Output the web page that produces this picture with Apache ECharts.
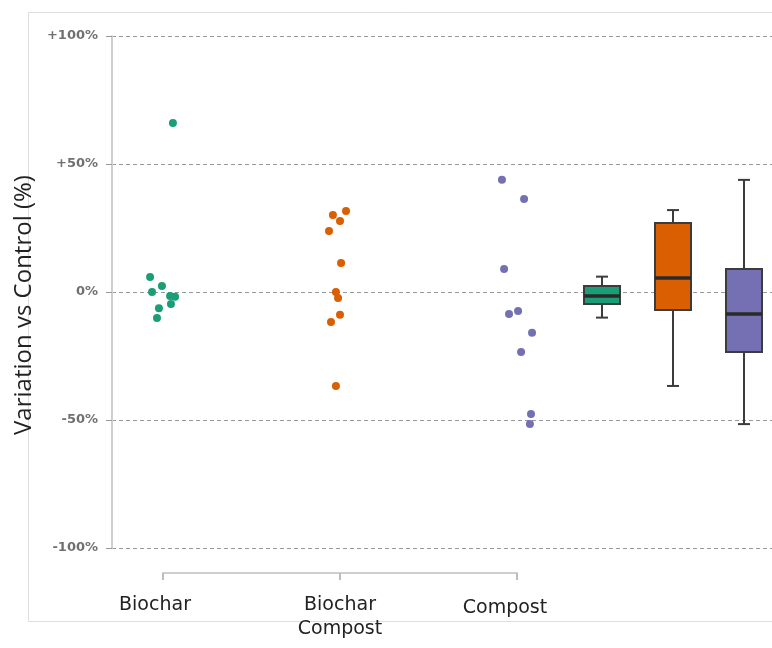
<!DOCTYPE html>
<html><head><meta charset="utf-8">
<script src="https://cdn.jsdelivr.net/npm/echarts@6/dist/echarts.min.js"></script>
<style>html,body{margin:0;padding:0;background:#fff}#c{width:772px;height:648px}</style>
</head><body><div id="c"></div>
<script>
const categories = ['Biochar', 'Biochar\nCompost', 'Compost'];
const colors = ['#1b9e77', '#d95f02', '#7570b3'];
const yTicks = [-100, -50, 0, 50, 100];

const biocharValues = [66.0, 5.9, 2.3, 0, -1.6, -1.9, -4.7, -6.3, -10.2];
const biocharJitter = [0.056, -0.073, -0.006, -0.062, 0.040, 0.068, 0.045, -0.023, -0.034];
const biocharCompostValues = [31.6, 30.1, 27.7, 23.8, 11.3, 0, -2.3, -8.9, -11.7, -36.7];
const biocharCompostJitter = [0.034, -0.040, 0.000, -0.062, 0.006, -0.023, -0.011, 0.000, -0.051, -0.023];
const compostValues = [43.8, 36.3, 9.0, -7.4, -8.6, -15.9, -23.4, -47.7, -51.6];
const compostJitter = [-0.085, 0.040, -0.073, 0.006, -0.045, 0.085, 0.023, 0.079, 0.073];

// box stats: [min, q1, median, q3, max]
const boxBiochar = [-10.0, -4.7, -1.6, 2.3, 6.0];
const boxBiocharCompost = [-36.7, -7.0, 5.5, 27.0, 32.0];
const boxCompost = [-51.6, -23.4, -8.6, 9.0, 43.8];

const groups = [
  { values: biocharValues, jitter: biocharJitter },
  { values: biocharCompostValues, jitter: biocharCompostJitter },
  { values: compostValues, jitter: compostJitter }
];
const boxes = [boxBiochar, boxBiocharCompost, boxCompost];

function renderBox(params, api) {
  const x = api.value(0);
  const c = i => api.coord([x, api.value(i)]);
  const pMin = c(1), pQ1 = c(2), pMed = c(3), pQ3 = c(4), pMax = c(5);
  const cx = pMin[0];
  const hw = 18, cw = 6;
  const stroke = '#3c3c3c';
  const ls = { stroke: stroke, lineWidth: 2 };
  return { type: 'group', children: [
    { type: 'line', shape: { x1: cx, y1: pMax[1], x2: cx, y2: pQ3[1] }, style: ls },
    { type: 'line', shape: { x1: cx, y1: pQ1[1], x2: cx, y2: pMin[1] }, style: ls },
    { type: 'line', shape: { x1: cx - cw, y1: pMax[1], x2: cx + cw, y2: pMax[1] }, style: ls },
    { type: 'line', shape: { x1: cx - cw, y1: pMin[1], x2: cx + cw, y2: pMin[1] }, style: ls },
    { type: 'rect', shape: { x: cx - hw, y: pQ3[1], width: 2 * hw, height: pQ1[1] - pQ3[1] },
      style: { fill: colors[params.dataIndex], stroke: stroke, lineWidth: 2 } },
    { type: 'line', shape: { x1: cx - hw, y1: pMed[1], x2: cx + hw, y2: pMed[1] },
      style: { stroke: '#2a2a2a', lineWidth: 3.5 } }
  ]};
}

const labelFont = { fontSize: 19, lineHeight: 24, color: '#222', fontFamily: 'DejaVu Sans, sans-serif' };

const chart = echarts.init(document.getElementById('c'), null, { renderer: 'canvas' });
const gridTop = 36, gridBottom = 100;
const option = {
  backgroundColor: '#fff',
  animation: false,
  graphic: [{
    type: 'rect', z: -1, silent: true,
    shape: { x: 28.5, y: 12.5, width: 760, height: 609 },
    style: { fill: 'none', stroke: '#dedede', lineWidth: 1 }
  }],
  grid: [
    { left: 112, right: 0, top: gridTop, bottom: gridBottom },
    { left: 163, width: 354, top: gridTop, bottom: gridBottom },
    { left: 602, width: 142, top: gridTop, bottom: gridBottom }
  ],
  xAxis: [
    { gridIndex: 0, type: 'value', show: false, min: 0, max: 1 },
    { gridIndex: 1, type: 'value', min: 0, max: 2, interval: 1, offset: 25,
      axisLine: { show: true, onZero: false, lineStyle: { color: '#cfcfcf', width: 2 } },
      axisTick: { show: true, length: 7, lineStyle: { color: '#bdbdbd', width: 2 } },
      splitLine: { show: false },
      axisLabel: Object.assign({ margin: 20,
        formatter: v => {
          const k = Math.round(v);
          return categories[k] ? '{c' + k + '|' + categories[k] + '}' : '';
        },
        rich: {
          c0: Object.assign({ padding: [0, 16, 0, 0] }, labelFont),
          c1: Object.assign({ padding: [0, 0, 0, 0] }, labelFont),
          c2: Object.assign({ padding: [6, 24, 0, 0] }, labelFont)
        } }, labelFont) },
    { gridIndex: 2, type: 'value', show: false, min: 0, max: 2 }
  ],
  yAxis: [
    { gridIndex: 0, type: 'value', min: -100, max: 100, interval: 50,
      name: 'Variation vs Control (%)', nameLocation: 'middle', nameRotate: 90, nameGap: 66,
      nameTextStyle: { fontSize: 24, color: '#222', fontFamily: 'Open Sans, sans-serif',
        padding: [0, 26, 0, 0] },
      axisLine: { show: true, lineStyle: { color: '#cfcfcf', width: 2 } },
      axisTick: { show: true, length: 6, lineStyle: { color: '#999' } },
      axisLabel: { margin: 14, fontSize: 13, color: '#707070', fontWeight: 'bold',
        fontFamily: 'DejaVu Sans, sans-serif',
        formatter: v => (v > 0 ? '+' : '') + v + '%' },
      splitLine: { show: true, lineStyle: { color: '#999', type: [4, 3], width: 1 } } },
    { gridIndex: 1, type: 'value', min: -100, max: 100, show: false, splitLine: { show: false } },
    { gridIndex: 2, type: 'value', min: -100, max: 100, show: false, splitLine: { show: false } }
  ],
  series: [
    ...groups.map((g, k) => ({
      type: 'scatter', xAxisIndex: 1, yAxisIndex: 1, clip: false,
      symbolSize: 8, itemStyle: { color: colors[k], opacity: 1 },
      data: g.values.map((v, i) => [k + g.jitter[i], v])
    })),
    { type: 'custom', xAxisIndex: 2, yAxisIndex: 2, clip: false,
      renderItem: renderBox,
      encode: { x: 0, y: [1, 2, 3, 4, 5] },
      data: boxes.map((b, k) => [k, ...b]) }
  ]
};
chart.setOption(option);
</script>
</body></html>
